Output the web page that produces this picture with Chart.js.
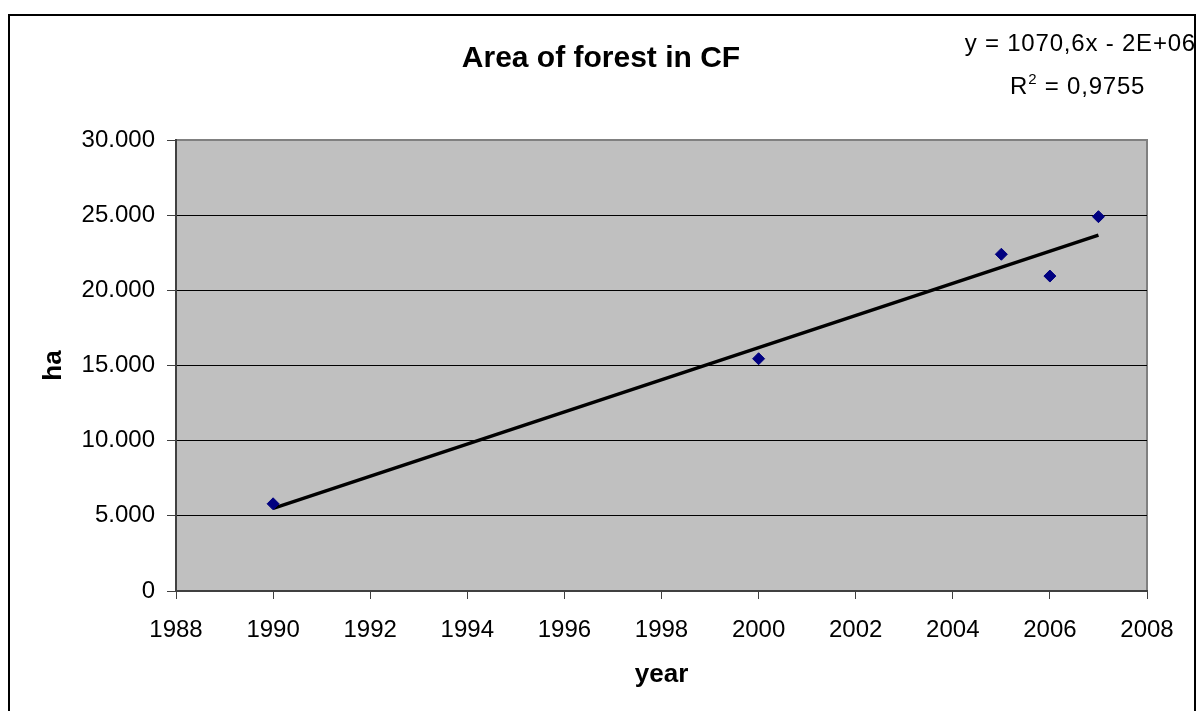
<!DOCTYPE html>
<html>
<head>
<meta charset="utf-8">
<title>Area of forest in CF</title>
<script src="https://cdn.jsdelivr.net/npm/chart.js@4.4.1/dist/chart.umd.min.js"></script>
<style>
  html, body { margin: 0; padding: 0; background: #fff; }
  #wrap { width: 1198px; height: 711px; }
</style>
</head>
<body>
<div id="wrap"><canvas id="forestChart" width="1198" height="711"></canvas></div>
<script>
// data
const years = [1990, 2000, 2005, 2006, 2007];
const areaHa = [5800, 15450, 22400, 20950, 24900];
const xTicks = [1988, 1990, 1992, 1994, 1996, 1998, 2000, 2002, 2004, 2006, 2008];
const yTicks = [0, 5000, 10000, 15000, 20000, 25000, 30000];

const titleText = 'Area of forest in CF';
const eqText = 'y = 1070,6x - 2E+06';
const r2Value = ' = 0,9755';
const xTitle = 'year';
const yTitle = 'ha';

const FONT = '"Liberation Sans", Arial, sans-serif';

// linear trend line (least squares) from the points
function trend(xs, ys) {
  const n = xs.length;
  const mx = xs.reduce((a, b) => a + b, 0) / n;
  const my = ys.reduce((a, b) => a + b, 0) / n;
  let sxy = 0, sxx = 0;
  xs.forEach((x, i) => { sxy += (x - mx) * (ys[i] - my); sxx += (x - mx) * (x - mx); });
  const k = sxy / sxx;
  return x => my + k * (x - mx);
}
const fit = trend(years, areaHa);
const trendX = [years[0], years[years.length - 1]];

function fmtThousands(v) {
  return String(v).replace(/\B(?=(\d{3})+(?!\d))/g, '.');
}

const decor = {
  id: 'decor',
  beforeDraw(chart) {
    const ctx = chart.ctx;
    const a = chart.chartArea;
    ctx.save();
    ctx.fillStyle = '#C0C0C0';
    ctx.fillRect(a.left, a.top, a.right - a.left, a.bottom - a.top);
    ctx.strokeStyle = '#808080';
    ctx.lineWidth = 2;
    ctx.strokeRect(a.left, a.top, a.right - a.left, a.bottom - a.top);
    // outer frame
    ctx.strokeStyle = '#000';
    ctx.lineWidth = 2;
    ctx.strokeRect(9, 15, 1186, 720);
    ctx.restore();
  },
  afterDraw(chart) {
    const ctx = chart.ctx;
    const a = chart.chartArea;
    ctx.save();
    ctx.fillStyle = '#000';
    ctx.textBaseline = 'alphabetic';

    // title
    ctx.font = 'bold 30px ' + FONT;
    ctx.textAlign = 'center';
    ctx.fillText(titleText, 601, 67);

    // trend equation
    ctx.font = '24px ' + FONT;
    ctx.letterSpacing = '0.8px';
    ctx.textAlign = 'right';
    ctx.fillText(eqText, 1196, 51);

    // R² line
    ctx.textAlign = 'left';
    let x = 1010;
    ctx.fillText('R', x, 94);
    x += ctx.measureText('R').width;
    ctx.font = '15px ' + FONT;
    ctx.fillText('2', x, 84);
    x += ctx.measureText('2').width;
    ctx.font = '24px ' + FONT;
    ctx.fillText(r2Value, x, 94);

    // axis titles
    ctx.letterSpacing = '0px';
    ctx.font = 'bold 26px ' + FONT;
    ctx.textAlign = 'center';
    ctx.fillText(xTitle, (a.left + a.right) / 2, 682);
    ctx.save();
    ctx.translate(61, (a.top + a.bottom) / 2);
    ctx.rotate(-Math.PI / 2);
    ctx.fillText(yTitle, 0, 0);
    ctx.restore();
    ctx.restore();
  }
};

new Chart(document.getElementById('forestChart'), {
  type: 'scatter',
  data: {
    datasets: [
      {
        label: 'Area',
        data: years.map((x, i) => ({ x: x, y: areaHa[i] })),
        pointStyle: 'rectRot',
        pointRadius: 6,
        pointBackgroundColor: '#000080',
        pointBorderColor: '#000080',
        pointBorderWidth: 1,
        order: 1
      },
      {
        type: 'line',
        label: 'Linear trend',
        data: trendX.map(x => ({ x: x, y: fit(x) })),
        borderColor: '#000',
        borderWidth: 3.5,
        pointRadius: 0,
        fill: false,
        order: 2
      }
    ]
  },
  options: {
    responsive: false,
    animation: false,
    events: [],
    layout: { padding: { left: 0, right: 51, top: 140, bottom: 0 } },
    plugins: {
      legend: { display: false },
      title: { display: false },
      tooltip: { enabled: false }
    },
    scales: {
      x: {
        type: 'linear',
        min: xTicks[0],
        max: xTicks[xTicks.length - 1],
        afterBuildTicks: s => { s.ticks = xTicks.map(v => ({ value: v })); },
        afterFit: s => { s.height = 120; },
        grid: {
          drawOnChartArea: false,
          drawTicks: true,
          tickLength: 8,
          tickColor: '#404040'
        },
        border: { color: '#404040', width: 2 },
        ticks: {
          color: '#000',
          padding: 17,
          maxRotation: 0,
          font: { family: FONT, size: 24 },
          callback: v => String(v)
        }
      },
      y: {
        min: yTicks[0],
        max: yTicks[yTicks.length - 1],
        afterBuildTicks: s => { s.ticks = yTicks.map(v => ({ value: v })); },
        afterFit: s => { s.width = 176; },
        grid: {
          color: ctx => (ctx.tick && ctx.tick.value === 30000 ? '#808080' : '#000'),
          lineWidth: 1,
          drawTicks: true,
          tickLength: 9,
          tickColor: '#404040'
        },
        border: { color: '#404040', width: 2 },
        ticks: {
          color: '#000',
          padding: 12,
          font: { family: FONT, size: 24 },
          callback: v => fmtThousands(v)
        }
      }
    }
  },
  plugins: [decor]
});
</script>
</body>
</html>
